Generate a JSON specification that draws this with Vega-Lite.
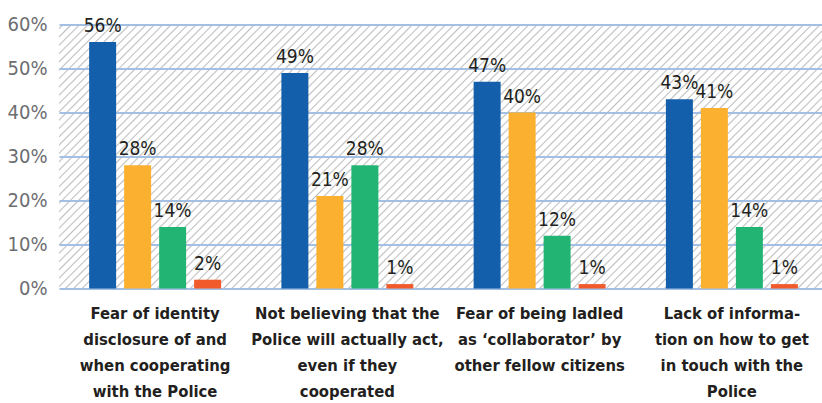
{
  "$schema": "https://vega.github.io/schema/vega-lite/v6.json",
  "width": 763,
  "height": 264,
  "autosize": {"type": "none"},
  "padding": {"left": 59, "top": 24.5, "right": 0, "bottom": 114.5},
  "background": "#ffffff",
  "config": {
    "font": "DejaVu Sans Condensed, Liberation Sans, sans-serif",
    "view": {
      "stroke": null,
      "fill": {
        "gradient": "linear",
        "x1": 0, "y1": 0, "x2": 1.21732, "y2": 0.42119,
        "stops": [
{"offset":0.0025,"color":"#fff"},{"offset":0.004,"color":"#c0c0c0"},{"offset":0.0055,"color":"#fff"},
{"offset":0.0105,"color":"#fff"},{"offset":0.012,"color":"#c0c0c0"},{"offset":0.0135,"color":"#fff"},
{"offset":0.0185,"color":"#fff"},{"offset":0.020,"color":"#c0c0c0"},{"offset":0.0215,"color":"#fff"},
{"offset":0.0265,"color":"#fff"},{"offset":0.028,"color":"#c0c0c0"},{"offset":0.0295,"color":"#fff"},
{"offset":0.0345,"color":"#fff"},{"offset":0.036,"color":"#c0c0c0"},{"offset":0.0375,"color":"#fff"},
{"offset":0.0425,"color":"#fff"},{"offset":0.044,"color":"#c0c0c0"},{"offset":0.0455,"color":"#fff"},
{"offset":0.0505,"color":"#fff"},{"offset":0.052,"color":"#c0c0c0"},{"offset":0.0535,"color":"#fff"},
{"offset":0.0585,"color":"#fff"},{"offset":0.060,"color":"#c0c0c0"},{"offset":0.0615,"color":"#fff"},
{"offset":0.0665,"color":"#fff"},{"offset":0.068,"color":"#c0c0c0"},{"offset":0.0695,"color":"#fff"},
{"offset":0.0745,"color":"#fff"},{"offset":0.076,"color":"#c0c0c0"},{"offset":0.0775,"color":"#fff"},
{"offset":0.0825,"color":"#fff"},{"offset":0.084,"color":"#c0c0c0"},{"offset":0.0855,"color":"#fff"},
{"offset":0.0905,"color":"#fff"},{"offset":0.092,"color":"#c0c0c0"},{"offset":0.0935,"color":"#fff"},
{"offset":0.0985,"color":"#fff"},{"offset":0.100,"color":"#c0c0c0"},{"offset":0.1015,"color":"#fff"},
{"offset":0.1065,"color":"#fff"},{"offset":0.108,"color":"#c0c0c0"},{"offset":0.1095,"color":"#fff"},
{"offset":0.1145,"color":"#fff"},{"offset":0.116,"color":"#c0c0c0"},{"offset":0.1175,"color":"#fff"},
{"offset":0.1225,"color":"#fff"},{"offset":0.124,"color":"#c0c0c0"},{"offset":0.1255,"color":"#fff"},
{"offset":0.1305,"color":"#fff"},{"offset":0.132,"color":"#c0c0c0"},{"offset":0.1335,"color":"#fff"},
{"offset":0.1385,"color":"#fff"},{"offset":0.140,"color":"#c0c0c0"},{"offset":0.1415,"color":"#fff"},
{"offset":0.1465,"color":"#fff"},{"offset":0.148,"color":"#c0c0c0"},{"offset":0.1495,"color":"#fff"},
{"offset":0.1545,"color":"#fff"},{"offset":0.156,"color":"#c0c0c0"},{"offset":0.1575,"color":"#fff"},
{"offset":0.1625,"color":"#fff"},{"offset":0.164,"color":"#c0c0c0"},{"offset":0.1655,"color":"#fff"},
{"offset":0.1705,"color":"#fff"},{"offset":0.172,"color":"#c0c0c0"},{"offset":0.1735,"color":"#fff"},
{"offset":0.1785,"color":"#fff"},{"offset":0.180,"color":"#c0c0c0"},{"offset":0.1815,"color":"#fff"},
{"offset":0.1865,"color":"#fff"},{"offset":0.188,"color":"#c0c0c0"},{"offset":0.1895,"color":"#fff"},
{"offset":0.1945,"color":"#fff"},{"offset":0.196,"color":"#c0c0c0"},{"offset":0.1975,"color":"#fff"},
{"offset":0.2025,"color":"#fff"},{"offset":0.204,"color":"#c0c0c0"},{"offset":0.2055,"color":"#fff"},
{"offset":0.2105,"color":"#fff"},{"offset":0.212,"color":"#c0c0c0"},{"offset":0.2135,"color":"#fff"},
{"offset":0.2185,"color":"#fff"},{"offset":0.220,"color":"#c0c0c0"},{"offset":0.2215,"color":"#fff"},
{"offset":0.2265,"color":"#fff"},{"offset":0.228,"color":"#c0c0c0"},{"offset":0.2295,"color":"#fff"},
{"offset":0.2345,"color":"#fff"},{"offset":0.236,"color":"#c0c0c0"},{"offset":0.2375,"color":"#fff"},
{"offset":0.2425,"color":"#fff"},{"offset":0.244,"color":"#c0c0c0"},{"offset":0.2455,"color":"#fff"},
{"offset":0.2505,"color":"#fff"},{"offset":0.252,"color":"#c0c0c0"},{"offset":0.2535,"color":"#fff"},
{"offset":0.2585,"color":"#fff"},{"offset":0.260,"color":"#c0c0c0"},{"offset":0.2615,"color":"#fff"},
{"offset":0.2665,"color":"#fff"},{"offset":0.268,"color":"#c0c0c0"},{"offset":0.2695,"color":"#fff"},
{"offset":0.2745,"color":"#fff"},{"offset":0.276,"color":"#c0c0c0"},{"offset":0.2775,"color":"#fff"},
{"offset":0.2825,"color":"#fff"},{"offset":0.284,"color":"#c0c0c0"},{"offset":0.2855,"color":"#fff"},
{"offset":0.2905,"color":"#fff"},{"offset":0.292,"color":"#c0c0c0"},{"offset":0.2935,"color":"#fff"},
{"offset":0.2985,"color":"#fff"},{"offset":0.300,"color":"#c0c0c0"},{"offset":0.3015,"color":"#fff"},
{"offset":0.3065,"color":"#fff"},{"offset":0.308,"color":"#c0c0c0"},{"offset":0.3095,"color":"#fff"},
{"offset":0.3145,"color":"#fff"},{"offset":0.316,"color":"#c0c0c0"},{"offset":0.3175,"color":"#fff"},
{"offset":0.3225,"color":"#fff"},{"offset":0.324,"color":"#c0c0c0"},{"offset":0.3255,"color":"#fff"},
{"offset":0.3305,"color":"#fff"},{"offset":0.332,"color":"#c0c0c0"},{"offset":0.3335,"color":"#fff"},
{"offset":0.3385,"color":"#fff"},{"offset":0.340,"color":"#c0c0c0"},{"offset":0.3415,"color":"#fff"},
{"offset":0.3465,"color":"#fff"},{"offset":0.348,"color":"#c0c0c0"},{"offset":0.3495,"color":"#fff"},
{"offset":0.3545,"color":"#fff"},{"offset":0.356,"color":"#c0c0c0"},{"offset":0.3575,"color":"#fff"},
{"offset":0.3625,"color":"#fff"},{"offset":0.364,"color":"#c0c0c0"},{"offset":0.3655,"color":"#fff"},
{"offset":0.3705,"color":"#fff"},{"offset":0.372,"color":"#c0c0c0"},{"offset":0.3735,"color":"#fff"},
{"offset":0.3785,"color":"#fff"},{"offset":0.380,"color":"#c0c0c0"},{"offset":0.3815,"color":"#fff"},
{"offset":0.3865,"color":"#fff"},{"offset":0.388,"color":"#c0c0c0"},{"offset":0.3895,"color":"#fff"},
{"offset":0.3945,"color":"#fff"},{"offset":0.396,"color":"#c0c0c0"},{"offset":0.3975,"color":"#fff"},
{"offset":0.4025,"color":"#fff"},{"offset":0.404,"color":"#c0c0c0"},{"offset":0.4055,"color":"#fff"},
{"offset":0.4105,"color":"#fff"},{"offset":0.412,"color":"#c0c0c0"},{"offset":0.4135,"color":"#fff"},
{"offset":0.4185,"color":"#fff"},{"offset":0.420,"color":"#c0c0c0"},{"offset":0.4215,"color":"#fff"},
{"offset":0.4265,"color":"#fff"},{"offset":0.428,"color":"#c0c0c0"},{"offset":0.4295,"color":"#fff"},
{"offset":0.4345,"color":"#fff"},{"offset":0.436,"color":"#c0c0c0"},{"offset":0.4375,"color":"#fff"},
{"offset":0.4425,"color":"#fff"},{"offset":0.444,"color":"#c0c0c0"},{"offset":0.4455,"color":"#fff"},
{"offset":0.4505,"color":"#fff"},{"offset":0.452,"color":"#c0c0c0"},{"offset":0.4535,"color":"#fff"},
{"offset":0.4585,"color":"#fff"},{"offset":0.460,"color":"#c0c0c0"},{"offset":0.4615,"color":"#fff"},
{"offset":0.4665,"color":"#fff"},{"offset":0.468,"color":"#c0c0c0"},{"offset":0.4695,"color":"#fff"},
{"offset":0.4745,"color":"#fff"},{"offset":0.476,"color":"#c0c0c0"},{"offset":0.4775,"color":"#fff"},
{"offset":0.4825,"color":"#fff"},{"offset":0.484,"color":"#c0c0c0"},{"offset":0.4855,"color":"#fff"},
{"offset":0.4905,"color":"#fff"},{"offset":0.492,"color":"#c0c0c0"},{"offset":0.4935,"color":"#fff"},
{"offset":0.4985,"color":"#fff"},{"offset":0.500,"color":"#c0c0c0"},{"offset":0.5015,"color":"#fff"},
{"offset":0.5065,"color":"#fff"},{"offset":0.508,"color":"#c0c0c0"},{"offset":0.5095,"color":"#fff"},
{"offset":0.5145,"color":"#fff"},{"offset":0.516,"color":"#c0c0c0"},{"offset":0.5175,"color":"#fff"},
{"offset":0.5225,"color":"#fff"},{"offset":0.524,"color":"#c0c0c0"},{"offset":0.5255,"color":"#fff"},
{"offset":0.5305,"color":"#fff"},{"offset":0.532,"color":"#c0c0c0"},{"offset":0.5335,"color":"#fff"},
{"offset":0.5385,"color":"#fff"},{"offset":0.540,"color":"#c0c0c0"},{"offset":0.5415,"color":"#fff"},
{"offset":0.5465,"color":"#fff"},{"offset":0.548,"color":"#c0c0c0"},{"offset":0.5495,"color":"#fff"},
{"offset":0.5545,"color":"#fff"},{"offset":0.556,"color":"#c0c0c0"},{"offset":0.5575,"color":"#fff"},
{"offset":0.5625,"color":"#fff"},{"offset":0.564,"color":"#c0c0c0"},{"offset":0.5655,"color":"#fff"},
{"offset":0.5705,"color":"#fff"},{"offset":0.572,"color":"#c0c0c0"},{"offset":0.5735,"color":"#fff"},
{"offset":0.5785,"color":"#fff"},{"offset":0.580,"color":"#c0c0c0"},{"offset":0.5815,"color":"#fff"},
{"offset":0.5865,"color":"#fff"},{"offset":0.588,"color":"#c0c0c0"},{"offset":0.5895,"color":"#fff"},
{"offset":0.5945,"color":"#fff"},{"offset":0.596,"color":"#c0c0c0"},{"offset":0.5975,"color":"#fff"},
{"offset":0.6025,"color":"#fff"},{"offset":0.604,"color":"#c0c0c0"},{"offset":0.6055,"color":"#fff"},
{"offset":0.6105,"color":"#fff"},{"offset":0.612,"color":"#c0c0c0"},{"offset":0.6135,"color":"#fff"},
{"offset":0.6185,"color":"#fff"},{"offset":0.620,"color":"#c0c0c0"},{"offset":0.6215,"color":"#fff"},
{"offset":0.6265,"color":"#fff"},{"offset":0.628,"color":"#c0c0c0"},{"offset":0.6295,"color":"#fff"},
{"offset":0.6345,"color":"#fff"},{"offset":0.636,"color":"#c0c0c0"},{"offset":0.6375,"color":"#fff"},
{"offset":0.6425,"color":"#fff"},{"offset":0.644,"color":"#c0c0c0"},{"offset":0.6455,"color":"#fff"},
{"offset":0.6505,"color":"#fff"},{"offset":0.652,"color":"#c0c0c0"},{"offset":0.6535,"color":"#fff"},
{"offset":0.6585,"color":"#fff"},{"offset":0.660,"color":"#c0c0c0"},{"offset":0.6615,"color":"#fff"},
{"offset":0.6665,"color":"#fff"},{"offset":0.668,"color":"#c0c0c0"},{"offset":0.6695,"color":"#fff"},
{"offset":0.6745,"color":"#fff"},{"offset":0.676,"color":"#c0c0c0"},{"offset":0.6775,"color":"#fff"},
{"offset":0.6825,"color":"#fff"},{"offset":0.684,"color":"#c0c0c0"},{"offset":0.6855,"color":"#fff"},
{"offset":0.6905,"color":"#fff"},{"offset":0.692,"color":"#c0c0c0"},{"offset":0.6935,"color":"#fff"},
{"offset":0.6985,"color":"#fff"},{"offset":0.700,"color":"#c0c0c0"},{"offset":0.7015,"color":"#fff"},
{"offset":0.7065,"color":"#fff"},{"offset":0.708,"color":"#c0c0c0"},{"offset":0.7095,"color":"#fff"},
{"offset":0.7145,"color":"#fff"},{"offset":0.716,"color":"#c0c0c0"},{"offset":0.7175,"color":"#fff"},
{"offset":0.7225,"color":"#fff"},{"offset":0.724,"color":"#c0c0c0"},{"offset":0.7255,"color":"#fff"},
{"offset":0.7305,"color":"#fff"},{"offset":0.732,"color":"#c0c0c0"},{"offset":0.7335,"color":"#fff"},
{"offset":0.7385,"color":"#fff"},{"offset":0.740,"color":"#c0c0c0"},{"offset":0.7415,"color":"#fff"},
{"offset":0.7465,"color":"#fff"},{"offset":0.748,"color":"#c0c0c0"},{"offset":0.7495,"color":"#fff"},
{"offset":0.7545,"color":"#fff"},{"offset":0.756,"color":"#c0c0c0"},{"offset":0.7575,"color":"#fff"},
{"offset":0.7625,"color":"#fff"},{"offset":0.764,"color":"#c0c0c0"},{"offset":0.7655,"color":"#fff"},
{"offset":0.7705,"color":"#fff"},{"offset":0.772,"color":"#c0c0c0"},{"offset":0.7735,"color":"#fff"},
{"offset":0.7785,"color":"#fff"},{"offset":0.780,"color":"#c0c0c0"},{"offset":0.7815,"color":"#fff"},
{"offset":0.7865,"color":"#fff"},{"offset":0.788,"color":"#c0c0c0"},{"offset":0.7895,"color":"#fff"},
{"offset":0.7945,"color":"#fff"},{"offset":0.796,"color":"#c0c0c0"},{"offset":0.7975,"color":"#fff"},
{"offset":0.8025,"color":"#fff"},{"offset":0.804,"color":"#c0c0c0"},{"offset":0.8055,"color":"#fff"},
{"offset":0.8105,"color":"#fff"},{"offset":0.812,"color":"#c0c0c0"},{"offset":0.8135,"color":"#fff"},
{"offset":0.8185,"color":"#fff"},{"offset":0.820,"color":"#c0c0c0"},{"offset":0.8215,"color":"#fff"},
{"offset":0.8265,"color":"#fff"},{"offset":0.828,"color":"#c0c0c0"},{"offset":0.8295,"color":"#fff"},
{"offset":0.8345,"color":"#fff"},{"offset":0.836,"color":"#c0c0c0"},{"offset":0.8375,"color":"#fff"},
{"offset":0.8425,"color":"#fff"},{"offset":0.844,"color":"#c0c0c0"},{"offset":0.8455,"color":"#fff"},
{"offset":0.8505,"color":"#fff"},{"offset":0.852,"color":"#c0c0c0"},{"offset":0.8535,"color":"#fff"},
{"offset":0.8585,"color":"#fff"},{"offset":0.860,"color":"#c0c0c0"},{"offset":0.8615,"color":"#fff"},
{"offset":0.8665,"color":"#fff"},{"offset":0.868,"color":"#c0c0c0"},{"offset":0.8695,"color":"#fff"},
{"offset":0.8745,"color":"#fff"},{"offset":0.876,"color":"#c0c0c0"},{"offset":0.8775,"color":"#fff"},
{"offset":0.8825,"color":"#fff"},{"offset":0.884,"color":"#c0c0c0"},{"offset":0.8855,"color":"#fff"},
{"offset":0.8905,"color":"#fff"},{"offset":0.892,"color":"#c0c0c0"},{"offset":0.8935,"color":"#fff"},
{"offset":0.8985,"color":"#fff"},{"offset":0.900,"color":"#c0c0c0"},{"offset":0.9015,"color":"#fff"},
{"offset":0.9065,"color":"#fff"},{"offset":0.908,"color":"#c0c0c0"},{"offset":0.9095,"color":"#fff"},
{"offset":0.9145,"color":"#fff"},{"offset":0.916,"color":"#c0c0c0"},{"offset":0.9175,"color":"#fff"},
{"offset":0.9225,"color":"#fff"},{"offset":0.924,"color":"#c0c0c0"},{"offset":0.9255,"color":"#fff"},
{"offset":0.9305,"color":"#fff"},{"offset":0.932,"color":"#c0c0c0"},{"offset":0.9335,"color":"#fff"},
{"offset":0.9385,"color":"#fff"},{"offset":0.940,"color":"#c0c0c0"},{"offset":0.9415,"color":"#fff"},
{"offset":0.9465,"color":"#fff"},{"offset":0.948,"color":"#c0c0c0"},{"offset":0.9495,"color":"#fff"},
{"offset":0.9545,"color":"#fff"},{"offset":0.956,"color":"#c0c0c0"},{"offset":0.9575,"color":"#fff"},
{"offset":0.9625,"color":"#fff"},{"offset":0.964,"color":"#c0c0c0"},{"offset":0.9655,"color":"#fff"},
{"offset":0.9705,"color":"#fff"},{"offset":0.972,"color":"#c0c0c0"},{"offset":0.9735,"color":"#fff"},
{"offset":0.9785,"color":"#fff"},{"offset":0.980,"color":"#c0c0c0"},{"offset":0.9815,"color":"#fff"},
{"offset":0.9865,"color":"#fff"},{"offset":0.988,"color":"#c0c0c0"},{"offset":0.9895,"color":"#fff"},
{"offset":0.9945,"color":"#fff"},{"offset":0.996,"color":"#c0c0c0"},{"offset":0.9975,"color":"#fff"}
        ]
      }
    }
  },
  "data": {
    "values": [
      {"cause": "Fear of identity|disclosure of and|when cooperating|with the Police", "series": "Series 1", "value": 0.56},
      {"cause": "Fear of identity|disclosure of and|when cooperating|with the Police", "series": "Series 2", "value": 0.28},
      {"cause": "Fear of identity|disclosure of and|when cooperating|with the Police", "series": "Series 3", "value": 0.14},
      {"cause": "Fear of identity|disclosure of and|when cooperating|with the Police", "series": "Series 4", "value": 0.02},
      {"cause": "Not believing that the|Police will actually act,|even if they|cooperated", "series": "Series 1", "value": 0.49},
      {"cause": "Not believing that the|Police will actually act,|even if they|cooperated", "series": "Series 2", "value": 0.21},
      {"cause": "Not believing that the|Police will actually act,|even if they|cooperated", "series": "Series 3", "value": 0.28},
      {"cause": "Not believing that the|Police will actually act,|even if they|cooperated", "series": "Series 4", "value": 0.01},
      {"cause": "Fear of being ladled|as ‘collaborator’ by|other fellow citizens", "series": "Series 1", "value": 0.47},
      {"cause": "Fear of being ladled|as ‘collaborator’ by|other fellow citizens", "series": "Series 2", "value": 0.40},
      {"cause": "Fear of being ladled|as ‘collaborator’ by|other fellow citizens", "series": "Series 3", "value": 0.12},
      {"cause": "Fear of being ladled|as ‘collaborator’ by|other fellow citizens", "series": "Series 4", "value": 0.01},
      {"cause": "Lack of informa-|tion on how to get|in touch with the|Police", "series": "Series 1", "value": 0.43},
      {"cause": "Lack of informa-|tion on how to get|in touch with the|Police", "series": "Series 2", "value": 0.41},
      {"cause": "Lack of informa-|tion on how to get|in touch with the|Police", "series": "Series 3", "value": 0.14},
      {"cause": "Lack of informa-|tion on how to get|in touch with the|Police", "series": "Series 4", "value": 0.01}
    ]
  },
  "encoding": {
    "x": {
      "field": "cause", "type": "nominal", "sort": null,
      "scale": {"range": [0, 769], "paddingInner": 0, "paddingOuter": 0},
      "axis": {
        "title": null, "ticks": false, "domain": false, "labelAngle": 0,
        "labelExpr": "split(datum.label, '|')",
        "labelFont": "DejaVu Sans Condensed, Liberation Sans, sans-serif", "labelFontSize": 16.5, "labelFontWeight": "bold",
        "labelColor": "#231f20", "labelLineHeight": 26, "labelPadding": 17,
        "labelLimit": 0, "labelOverlap": false, "labelBound": false
      }
    },
    "xOffset": {
      "field": "series", "type": "nominal",
      "scale": {"paddingInner": 0.2286, "paddingOuter": 0.861}
    },
    "y": {
      "field": "value", "type": "quantitative",
      "scale": {"domain": [0, 0.6], "nice": false},
      "axis": {
        "title": null, "domain": false, "ticks": false, "grid": true,
        "gridColor": "#a3bfe3", "gridWidth": 2,
        "values": [0, 0.1, 0.2, 0.3, 0.4, 0.5, 0.6], "format": ".0%",
        "labelFont": "DejaVu Sans Condensed, Liberation Sans, sans-serif", "labelFontSize": 20, "labelColor": "#6d6e71",
        "labelPadding": 12
      }
    }
  },
  "layer": [
    {
      "mark": {"type": "bar"},
      "encoding": {
        "color": {
          "field": "series", "type": "nominal", "legend": null,
          "scale": {"range": ["#135fab", "#fbb12f", "#22b473", "#f15a2b"]}
        }
      }
    },
    {
      "mark": {"type": "text", "baseline": "alphabetic", "dy": -10, "font": "DejaVu Sans Condensed, Liberation Sans, sans-serif", "fontSize": 19, "color": "#231f20"},
      "encoding": {
        "text": {"field": "value", "type": "quantitative", "format": ".0%"}
      }
    }
  ]
}
